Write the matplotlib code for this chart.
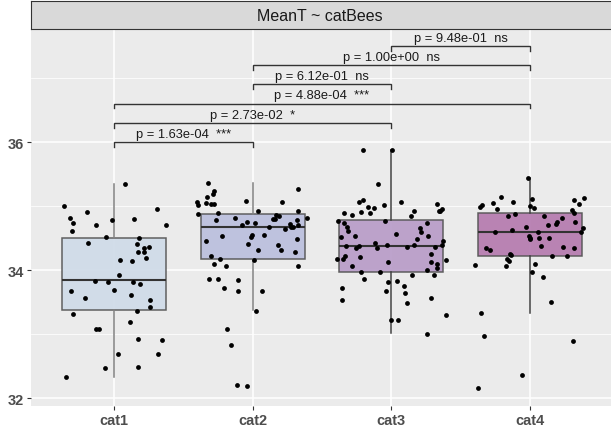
import matplotlib.pyplot as plt
import numpy as np

plt.rcParams['font.family'] = ['Liberation Sans', 'DejaVu Sans']

# data
cats = ['cat1', 'cat2', 'cat3', 'cat4']
box_colors = ['#cfdbe8', '#bbbfdd', '#b89cc8', '#b57aaf']

q1 = [33.38, 34.17, 33.98, 34.22]
med = [33.85, 34.68, 34.38, 34.60]
q3 = [34.50, 34.875, 34.78, 34.90]
whis_lo = [32.34, 33.38, 33.02, 33.34]
whis_hi = [35.34, 35.36, 35.875, 35.44]

# jittered points: offset from category centre, value
cat1_dx = [-0.358, -0.320, -0.293, -0.305, -0.197, -0.132, -0.185, -0.055, -0.014, 0.079,
           0.142, 0.308, 0.373, 0.183, 0.168, 0.216, 0.252, 0.175, 0.214, 0.228,
           0.041, 0.130, 0.038, -0.139, -0.046, 0.0, 0.137, 0.190, 0.125, -0.313,
           -0.209, 0.257, 0.257, -0.293, 0.168, 0.118, -0.127, -0.111, 0.175, 0.349,
           0.026, 0.317, -0.063, 0.171, -0.344]
cat1_y = [35.01, 34.82, 34.73, 34.62, 34.91, 34.70, 34.42, 34.52, 34.78, 35.34,
          34.80, 34.95, 34.70, 34.50, 34.41, 34.35, 34.36, 34.28, 34.28, 34.19,
          34.16, 34.14, 33.92, 33.84, 33.82, 33.70, 33.82, 33.79, 33.62, 33.67,
          33.57, 33.53, 33.43, 33.32, 33.36, 33.19, 33.08, 33.08, 32.93, 32.91,
          32.70, 32.69, 32.48, 32.49, 32.34]

cat2_dx = [-0.320, -0.281, -0.286, -0.327, -0.401, -0.397, -0.339, -0.298, -0.281, -0.392,
           -0.250, -0.046, 0.214, 0.325, 0.038, -0.127, -0.262, -0.077, -0.043, 0.017,
           0.166, 0.188, 0.144, 0.161, 0.325, 0.392, 0.322, 0.267, 0.279, 0.288,
           0.325, 0.118, 0.236, -0.005, -0.012, -0.224, -0.334, 0.079, -0.031, 0.038,
           0.185, 0.207, 0.320, 0.308, -0.300, -0.233, 0.010, -0.281, -0.192, 0.329,
           -0.315, -0.250, -0.103, -0.204, -0.103, 0.065, 0.024, -0.185, -0.154, -0.111,
           -0.038]
cat2_y = [35.36, 35.23, 35.19, 35.14, 35.06, 35.02, 35.05, 35.03, 35.03, 34.88,
          34.90, 35.08, 35.07, 35.27, 34.93, 34.82, 34.78, 34.70, 34.75, 34.73,
          34.86, 34.85, 34.80, 34.80, 34.92, 34.82, 34.79, 34.72, 34.68, 34.68,
          34.70, 34.67, 34.64, 34.55, 34.52, 34.53, 34.46, 34.55, 34.41, 34.32,
          34.39, 34.31, 34.48, 34.28, 34.23, 34.17, 34.16, 34.09, 34.07, 34.07,
          33.86, 33.86, 33.85, 33.73, 33.67, 33.68, 33.37, 33.08, 32.84, 32.21,
          32.19]

cat3_dx = [-0.202, 0.005, -0.096, -0.236, -0.204, -0.055, 0.067, -0.168, -0.127, -0.216,
           -0.151, -0.339, -0.281, 0.166, 0.144, 0.329, 0.363, 0.349, 0.341, -0.387,
           -0.344, -0.320, -0.043, 0.257, -0.310, -0.365, -0.262, 0.207, 0.214, 0.036,
           0.183, 0.264, 0.370, 0.363, -0.329, -0.252, -0.231, -0.118, -0.103, -0.031,
           0.115, 0.166, 0.315, -0.394, -0.351, -0.337, -0.228, -0.024, 0.286, 0.284,
           0.332, 0.332, 0.392, -0.286, -0.221, -0.082, 0.260, 0.149, 0.305, -0.197,
           -0.024, 0.041, 0.094, 0.101, -0.353, -0.036, -0.358, 0.111, 0.286, 0.392,
           -0.002, 0.046, 0.257]
cat3_y = [35.875, 35.875, 35.34, 35.07, 35.10, 35.02, 35.06, 34.98, 34.97, 34.91,
          34.89, 34.90, 34.86, 34.92, 34.85, 35.03, 34.95, 34.92, 34.93, 34.77,
          34.74, 34.68, 34.77, 34.74, 34.62, 34.52, 34.54, 34.66, 34.59, 34.57,
          34.49, 34.54, 34.46, 34.40, 34.375, 34.34, 34.375, 34.42, 34.35, 34.40,
          34.36, 34.40, 34.36, 34.17, 34.18, 34.23, 34.21, 34.125, 34.25, 34.125,
          34.09, 34.03, 34.16, 34.06, 33.97, 33.98, 34.00, 33.92, 33.92, 33.87,
          33.82, 33.84, 33.755, 33.65, 33.73, 33.68, 33.53, 33.49, 33.57, 33.31,
          33.23, 33.23, 33.01]

cat4_dx = [-0.014, 0.017, -0.209, -0.264, -0.238, -0.123, -0.358, -0.344, -0.002, 0.026,
           0.315, 0.389, 0.353, 0.300, 0.315, -0.161, -0.106, 0.103, 0.231, 0.192,
           0.188, 0.132, 0.327, 0.382, 0.368, -0.026, -0.130, -0.252, -0.007, -0.002,
           0.0, 0.060, 0.063, 0.135, -0.317, -0.291, 0.077, 0.238, 0.315, -0.144,
           -0.137, 0.156, 0.267, -0.168, -0.149, -0.175, -0.397, 0.038, 0.012, 0.094,
           0.151, -0.351, -0.329, 0.308, -0.060, -0.375]
cat4_y = [35.44, 35.11, 35.15, 35.05, 34.96, 35.06, 34.99, 35.02, 35.01, 34.97,
          35.10, 35.12, 35.03, 34.94, 34.89, 34.85, 34.875, 34.85, 34.82, 34.755,
          34.72, 34.70, 34.755, 34.66, 34.60, 34.67, 34.625, 34.59, 34.54, 34.505,
          34.48, 34.60, 34.51, 34.50, 34.34, 34.32, 34.38, 34.36, 34.35, 34.255,
          34.24, 34.22, 34.22, 34.18, 34.14, 34.07, 34.08, 34.09, 33.98, 33.89,
          33.51, 33.33, 32.98, 32.90, 32.37, 32.16]

# comparisons
pairs = [(1, 2), (1, 3), (1, 4), (2, 3), (2, 4), (3, 4)]
bracket_y = [36.0, 36.3, 36.6, 36.9, 37.2, 37.5]
p_labels = ['p = 1.63e-04  ***', 'p = 2.73e-02  *', 'p = 4.88e-04  ***',
            'p = 6.12e-01  ns', 'p = 1.00e+00  ns', 'p = 9.48e-01  ns']

fig = plt.figure(figsize=(6.11, 4.35), dpi=100)
ax = fig.add_axes([30.8 / 611, 28 / 435, 582.5 / 611, 377 / 435])
ax.set_facecolor('#ebebeb')

stats = []
for i in range(4):
    stats.append({'med': med[i], 'q1': q1[i], 'q3': q3[i],
                  'whislo': whis_lo[i], 'whishi': whis_hi[i]})
bp = ax.bxp(stats, positions=[1, 2, 3, 4], widths=0.75, patch_artist=True,
            showcaps=False, showfliers=False, zorder=2)
for i, b in enumerate(bp['boxes']):
    b.set_facecolor(box_colors[i])
    b.set_alpha(0.92)
    b.set_edgecolor('#555555')
    b.set_linewidth(1.1)
whisk_col = ['#808080', '#808080', '#404040', '#404040']
for i, w in enumerate(bp['whiskers']):
    w.set_color(whisk_col[i // 2])
    w.set_linewidth(1.1)
for m in bp['medians']:
    m.set_color('#333333')
    m.set_linewidth(1.5)

all_dx = [cat1_dx, cat2_dx, cat3_dx, cat4_dx]
all_y = [cat1_y, cat2_y, cat3_y, cat4_y]
for i in range(4):
    xs = np.array(all_dx[i]) + i + 1
    ax.scatter(xs, all_y[i], s=12, color='black', zorder=3, linewidths=0)

tick_len = 0.075
for (a, b), yv, lab in zip(pairs, bracket_y, p_labels):
    ax.plot([a, a, b, b], [yv - tick_len, yv, yv, yv - tick_len], color='#333333',
            linewidth=1.0, zorder=4, solid_joinstyle='miter')
    ax.text((a + b) / 2, yv + 0.035, lab, ha='center', va='bottom', fontsize=9.3,
            color='#1a1a1a', zorder=5)

ax.set_xlim(0.4, 4.6)
ax.set_ylim(31.883, 37.763)
ax.set_xticks([1, 2, 3, 4])
ax.set_xticklabels(cats)
ax.set_yticks([32, 34, 36])
ax.set_yticks([33, 35, 37], minor=True)
ax.grid(which='major', color='white', linewidth=1.1)
ax.grid(which='minor', axis='y', color='white', linewidth=0.55)
ax.set_axisbelow(True)
for s in ax.spines.values():
    s.set_visible(False)
ax.tick_params(which='major', length=3, width=0.8, color='#333333', labelcolor='#4d4d4d',
               labelsize=10.5, pad=2)
ax.tick_params(which='minor', length=0)
for t in ax.get_xticklabels() + ax.get_yticklabels():
    t.set_fontweight('bold')

# facet strip
sax = fig.add_axes([30.8 / 611, 405 / 435, 582.5 / 611, 28 / 435])
sax.set_facecolor('#d9d9d9')
sax.set_xticks([])
sax.set_yticks([])
for s in sax.spines.values():
    s.set_color('#333333')
    s.set_linewidth(0.8)
sax.text(0.497, 0.5, 'MeanT ~ catBees', ha='center', va='center',
         fontsize=11.5, color='#1a1a1a', transform=sax.transAxes)

fig.savefig('out.png', dpi=100)
